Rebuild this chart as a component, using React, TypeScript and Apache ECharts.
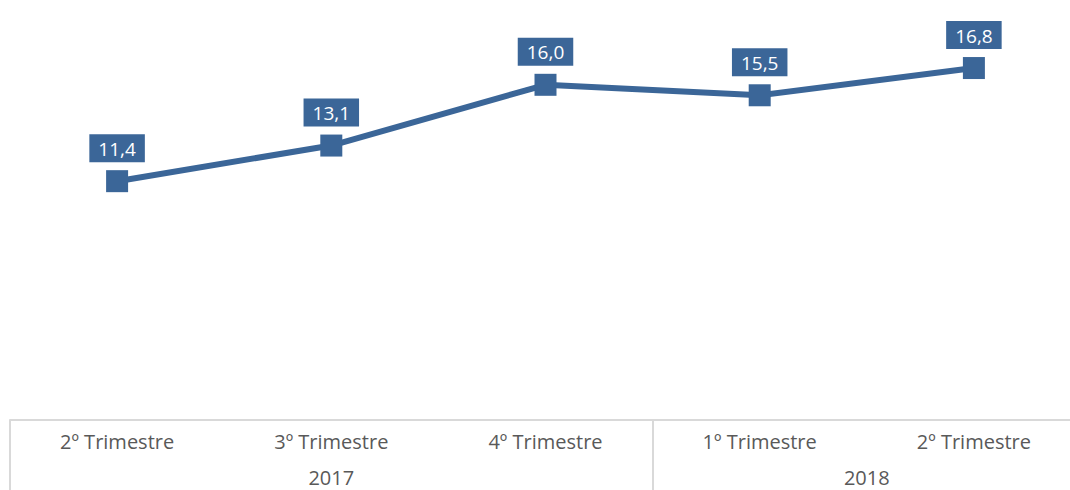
import React, { useEffect, useRef } from "react";
import * as echarts from "echarts";

const quarters = ["2º Trimestre", "3º Trimestre", "4º Trimestre", "1º Trimestre", "2º Trimestre"];
const values = [11.4, 13.1, 16.0, 15.5, 16.8];
const years = ["2017", "2018"];
const yearSpans = [3, 2];

const BLUE = "#3B6698";
const GRAY = "#D9D9D9";
const TEXT = "#595959";
const FONT = "'Open Sans', 'Noto Sans', sans-serif";

export default function App() {
  const ref = useRef<HTMLDivElement>(null);
  useEffect(() => {
    if (!ref.current) return;
    const chart = echarts.init(ref.current, null, { renderer: "svg" });
    const boundaries: number[] = [];
    const centers: { v: number; name: string }[] = [];
    let acc = 0;
    years.forEach((y, i) => {
      boundaries.push(acc);
      centers.push({ v: acc + yearSpans[i] / 2, name: y });
      acc += yearSpans[i];
    });
    chart.setOption({
      animation: false,
      grid: {
        left: 10,
        top: 1,
        width: 1071,
        height: 419,
        containLabel: false,
        outerBoundsMode: "none",
      },
      xAxis: [
        {
          type: "category",
          data: quarters,
          boundaryGap: true,
          axisLine: { show: true, lineStyle: { color: GRAY, width: 2 } },
          axisTick: {
            show: true,
            length: 72,
            lineStyle: { color: GRAY, width: 2 },
            interval: (index: number) => boundaries.includes(index),
          },
          axisLabel: { color: TEXT, fontSize: 20, fontFamily: FONT, margin: 11, interval: 0 },
          splitLine: { show: false },
        },
        {
          type: "value",
          min: 0,
          max: acc,
          interval: 0.5,
          position: "bottom",
          axisLine: { show: false },
          axisTick: { show: false },
          splitLine: { show: false },
          axisLabel: {
            color: TEXT,
            fontSize: 20,
            fontFamily: FONT,
            margin: 47,
            showMinLabel: false,
            showMaxLabel: false,
            formatter: (v: number) => {
              const c = centers.find((c) => Math.abs(c.v - v) < 1e-6);
              return c ? c.name : "";
            },
          },
        },
      ],
      yAxis: {
        type: "value",
        min: 0,
        max: 20,
        show: false,
        splitLine: { show: false },
      },
      series: [
        {
          type: "line",
          data: values,
          xAxisIndex: 0,
          symbol: "rect",
          symbolSize: 22,
          lineStyle: { color: BLUE, width: 6 },
          itemStyle: { color: BLUE },
          label: {
            show: true,
            position: "top",
            distance: 8,
            color: "#FFFFFF",
            backgroundColor: BLUE,
            fontSize: 19,
            fontFamily: FONT,
            padding: [5, 9, 4, 9],
            formatter: (p: any) => p.value.toFixed(1).replace(".", ","),
          },
        },
      ],
    });
    return () => chart.dispose();
  }, []);
  return (
    <div
      ref={ref}
      style={{ position: "fixed", left: 0, top: 0, width: 1070, height: 490, background: "#fff" }}
    />
  );
}
